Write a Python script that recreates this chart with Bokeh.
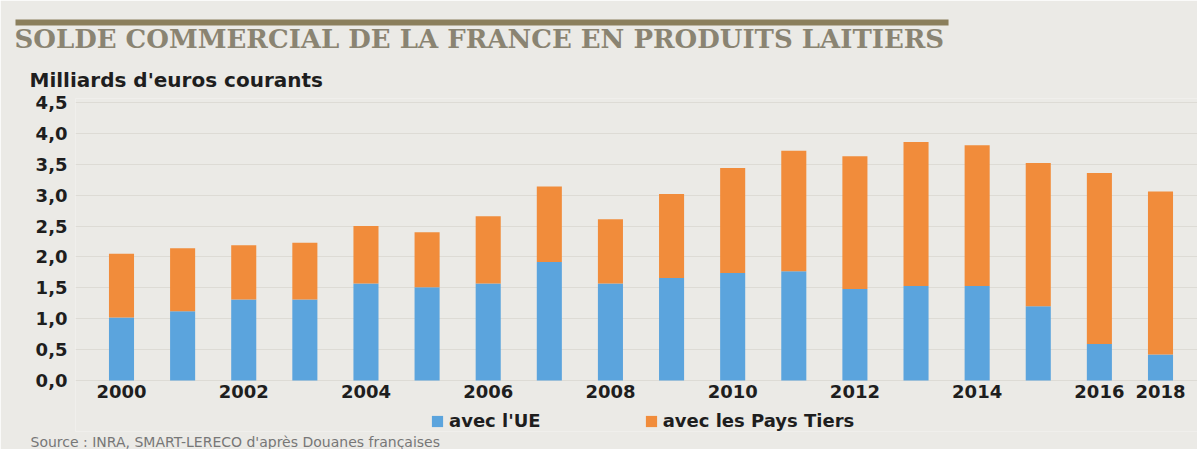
from bokeh.plotting import figure
from bokeh.models import Legend, LegendItem, FixedTicker, ColumnDataSource, Title
from bokeh.embed import file_html
from bokeh.resources import INLINE

# ---- data ----
years = [2000, 2001, 2002, 2003, 2004, 2005, 2006, 2007, 2008,
         2009, 2010, 2011, 2012, 2013, 2014, 2015, 2016, 2017]
avec_ue = [1.02, 1.12, 1.31, 1.31, 1.57, 1.51, 1.57, 1.92, 1.57,
           1.66, 1.74, 1.77, 1.48, 1.53, 1.53, 1.20, 0.59, 0.42]
avec_pays_tiers = [1.03, 1.02, 0.88, 0.92, 0.93, 0.89, 1.09, 1.22, 1.04,
                   1.36, 1.70, 1.95, 2.15, 2.33, 2.28, 2.32, 2.77, 2.64]
x_tick_labels = ["2000", "2002", "2004", "2006", "2008", "2010", "2012", "2014", "2016", "2018"]
y_ticks = [0.0, 0.5, 1.0, 1.5, 2.0, 2.5, 3.0, 3.5, 4.0, 4.5]
y_tick_labels = ["0,0", "0,5", "1,0", "1,5", "2,0", "2,5", "3,0", "3,5", "4,0", "4,5"]
series_names = ["avec l'UE", "avec les Pays Tiers"]
title_text = "SOLDE COMMERCIAL DE LA FRANCE EN PRODUITS LAITIERS"
unit_text = "Milliards d'euros courants"
source_text = "Source : INRA, SMART-LERECO d'après Douanes françaises"

# ---- styling / layout constants (pixels) ----
W = 1197
FL, FT, FB = 75, 98, 431          # frame left / top / bottom
BASE = 380                        # pixel row of value 0
FW, FH = W - FL, FB - FT
BG = "#ebeae6"
BLUE = "#5ba4dd"
ORANGE = "#f18c3b"
DARK = "#1e1e1e"
OLIVE = "#8b7f5c"

px_per_year = (1160 - 121) / 17
px_per_unit = 61.75
x0 = years[0] - (121 - FL) / px_per_year
x1 = years[-1] + (W - 1160) / px_per_year
y1 = y_ticks[-1] + 4 / px_per_unit
y0 = -(FB - BASE) / px_per_unit

src = ColumnDataSource(dict(year=years, ue=avec_ue, tiers=avec_pays_tiers))

p = figure(frame_width=FW, frame_height=FH, output_backend="svg", toolbar_location=None,
           x_range=(x0, x1), y_range=(y0, y1),
           min_border_left=FL, min_border_right=0, min_border_top=FT, min_border_bottom=0)
p.background_fill_color = BG
p.border_fill_color = BG
p.outline_line_color = None

rs = p.vbar_stack(["ue", "tiers"], x="year", width=0.41, color=[BLUE, ORANGE],
                  line_color=None, source=src)

xt = years[::2] + [years[-1]]
p.xaxis.ticker = FixedTicker(ticks=xt)
p.xaxis.major_label_overrides = {t: lab for t, lab in zip(xt, x_tick_labels)}
p.xaxis.fixed_location = 0
p.yaxis.ticker = FixedTicker(ticks=y_ticks)
p.yaxis.major_label_overrides = {t: lab for t, lab in zip(y_ticks, y_tick_labels)}
for ax in (p.xaxis, p.yaxis):
    ax.axis_line_color = None
    ax.major_tick_line_color = None
    ax.minor_tick_line_color = None
    ax.major_tick_out = 0
    ax.major_tick_in = 0
    ax.major_label_text_font = "DejaVu Sans"
    ax.major_label_text_font_style = "bold"
    ax.major_label_text_font_size = "18px"
    ax.major_label_text_color = DARK
p.xaxis.major_label_standoff = 5
p.yaxis.major_label_standoff = 8
p.xgrid.grid_line_color = None
p.ygrid.grid_line_color = "#dddbd5"
p.ygrid.grid_line_width = 1

# ---- titles above (first added = nearest the frame) ----
p.add_layout(Title(text=unit_text, align="left", offset=-46, standoff=14,
                   text_font="DejaVu Sans", text_font_style="bold",
                   text_font_size="20px", text_color=DARK), "above")
p.add_layout(Title(text=title_text, align="left", offset=-61, standoff=10,
                   text_font="DejaVu Serif", text_font_style="bold",
                   text_font_size="26px", text_color="#8a8472"), "above")
p.add_layout(Title(text="\u00a0" * 536, align="left", offset=-60, standoff=-18,
                   text_font="DejaVu Sans", text_font_size="5px",
                   background_fill_color=OLIVE, background_fill_alpha=1.0,
                   text_color=OLIVE), "above")

# ---- legend (inside the frame, under the year labels) ----
legend = Legend(items=[LegendItem(label=series_names[0], renderers=[rs[0]]),
                       LegendItem(label=series_names[1], renderers=[rs[1]])],
                orientation="horizontal", location=(355, 0),
                glyph_width=14, glyph_height=14, label_standoff=5, spacing=103,
                padding=0, margin=0, border_line_color=None, background_fill_alpha=0,
                label_text_font="DejaVu Sans", label_text_font_style="bold",
                label_text_font_size="18px", label_text_color=DARK)
p.add_layout(legend, "center")

# ---- source line ----
p.add_layout(Title(text=source_text, align="left", offset=-45, standoff=0,
                   text_font="DejaVu Sans", text_font_style="normal",
                   text_font_size="14px", text_color="#777777"), "below")

open("out.html", "w").write(file_html(p, INLINE))
